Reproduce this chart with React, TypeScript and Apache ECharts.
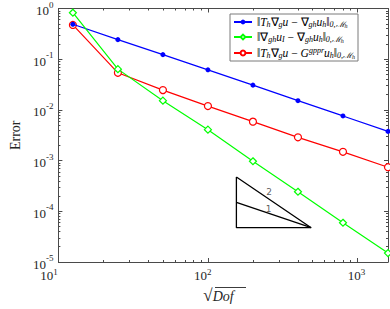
import React, { useEffect, useRef } from "react";
import * as echarts from "echarts";

const dofs = [12.5, 25, 50, 100, 200, 400, 800, 1600];
const errBlue = [0.489, 0.243, 0.123, 0.0617, 0.0308, 0.0152, 0.0076, 0.00377];
const errGreen = [0.826, 0.0637, 0.0152, 0.00407, 0.00097, 0.000243, 0.0000595, 0.000015];
const errRed = [0.474, 0.0539, 0.0246, 0.0119, 0.00586, 0.00288, 0.00149, 0.00074];

const xMajor = [10, 100, 1000];
const xMinor = [20, 30, 40, 50, 60, 70, 80, 90, 200, 300, 400, 500, 600, 700, 800, 900];
const yMajor = [1e-5, 1e-4, 1e-3, 1e-2, 1e-1, 1];
const yMinorFactors = [2, 3, 4, 5, 6, 7, 8, 9];
const yDecades = [1e-5, 1e-4, 1e-3, 1e-2, 1e-1];

// slope triangle (data coords)
const triOuter = [[155, 4.75e-4], [490, 4.75e-5], [155, 4.75e-5], [155, 4.75e-4]];
const triInner = [[155, 1.5e-4], [490, 4.75e-5]];
const triLabels = [
  { name: "2", value: [256, 2.4e-4] },
  { name: "1", value: [255, 1.1e-4] },
];

const legendNames = ["s1", "s2", "s3"];

export default function App() {
  const ref = useRef<HTMLDivElement>(null);
  useEffect(() => {
    if (!ref.current) return;
    const chart = echarts.init(ref.current, undefined, { renderer: "svg" });
    const yMinor: number[] = [];
    yDecades.forEach((d) => yMinorFactors.forEach((f) => yMinor.push(f * d)));
    const axColor = "#4a4a4a";
    const serif = "Liberation Serif";
    const powLabel = (v: number) => {
      const e = Math.round(Math.log10(v));
      return `{b|10}{s|${e}}`;
    };
    const xRich = {
      b: { fontFamily: serif, fontSize: 13, color: "#262626" },
      s: { fontFamily: serif, fontSize: 9, color: "#262626", padding: [0, 0, 8, 0] },
    };
    const yRich = {
      b: { fontFamily: serif, fontSize: 13, color: "#262626", padding: [4, 0, 0, 0] },
      s: { fontFamily: serif, fontSize: 9, color: "#262626", padding: [0, 0, 8, 0] },
    };
    const gridRect = { left: 49, right: 2, top: 7.5, bottom: 47 };
    const baseX = { type: "log", min: 10, max: 1600, logBase: 10, gridIndex: 0, splitLine: { show: false } };
    const baseY = { type: "log", min: 1e-5, max: 1, logBase: 10, gridIndex: 0, splitLine: { show: false } };
    const legendText: Record<string, string> = {
      s1: "{n|‖}{m|T}{sub|h}{n|∇}{sub|g}{m|u}{n| − ∇}{sub|gh}{m|u}{sub|h}{n|‖}{sub|0,ℳ}{ss|h}",
      s2: "{n|‖∇}{sub|gh}{m|u}{sub|I}{n| − ∇}{sub|gh}{m|u}{sub|h}{n|‖}{sub|0,ℳ}{ss|h}",
      s3: "{n|‖}{m|T}{sub|h}{n|∇}{sub|g}{m|u}{n| − }{m|G}{sup|gppr}{m|u}{sub|h}{n|‖}{sub|0,ℳ}{ss|h}",
    };
    chart.setOption({
      animation: false,
      grid: [gridRect, { ...gridRect }],
      graphic: [
        {
          type: "line",
          shape: { x1: 215, y1: 287.5, x2: 246, y2: 287.5 },
          style: { stroke: "#262626", lineWidth: 0.9 },
        },
      ],
      xAxis: [
        {
          ...baseX,
          position: "bottom",
          axisLine: { show: true, lineStyle: { color: axColor, width: 1 } },
          axisTick: { show: true, inside: true, length: 4, lineStyle: { color: axColor }, customValues: xMajor },
          axisLabel: { show: false },
        },
        {
          ...baseX,
          position: "bottom",
          axisLine: { show: false },
          axisTick: { show: true, inside: true, length: 2, lineStyle: { color: axColor }, customValues: xMinor },
          axisLabel: { show: false },
        },
        {
          ...baseX,
          position: "top",
          axisLine: { show: true, lineStyle: { color: axColor, width: 1 } },
          axisTick: { show: true, inside: true, length: 4, lineStyle: { color: axColor }, customValues: xMajor },
          axisLabel: { show: false },
        },
        {
          ...baseX,
          position: "top",
          axisLine: { show: false },
          axisTick: { show: true, inside: true, length: 2, lineStyle: { color: axColor }, customValues: xMinor },
          axisLabel: { show: false },
        },
        {
          ...baseX,
          gridIndex: 1,
          position: "bottom",
          axisLine: { show: false },
          axisTick: { show: false },
          axisLabel: { show: true, margin: 10, customValues: xMajor, formatter: powLabel, rich: xRich },
          name: "{r|√}{d|Dof}",
          nameLocation: "middle",
          nameGap: 28,
          nameTextStyle: {
            color: "#262626",
            rich: {
              r: { fontFamily: serif, fontSize: 17, color: "#262626" },
              d: { fontFamily: serif, fontSize: 14, fontStyle: "italic", color: "#262626", padding: [2, 0, 0, 0] },
            },
          },
        },
      ],
      yAxis: [
        {
          ...baseY,
          position: "left",
          axisLine: { show: true, lineStyle: { color: axColor, width: 1 } },
          axisTick: { show: true, inside: true, length: 4, lineStyle: { color: axColor }, customValues: yMajor },
          axisLabel: { show: true, margin: 5, customValues: yMajor, formatter: powLabel, rich: yRich },
          name: "Error",
          nameLocation: "middle",
          nameGap: 32,
          nameRotate: 90,
          nameTextStyle: { fontFamily: serif, fontSize: 14, color: "#262626" },
        },
        {
          ...baseY,
          position: "left",
          axisLine: { show: false },
          axisTick: { show: true, inside: true, length: 2, lineStyle: { color: axColor }, customValues: yMinor },
          axisLabel: { show: false },
        },
        {
          ...baseY,
          position: "right",
          axisLine: { show: true, lineStyle: { color: axColor, width: 1 } },
          axisTick: { show: true, inside: true, length: 4, lineStyle: { color: axColor }, customValues: yMajor },
          axisLabel: { show: false },
        },
        {
          ...baseY,
          position: "right",
          axisLine: { show: false },
          axisTick: { show: true, inside: true, length: 2, lineStyle: { color: axColor }, customValues: yMinor },
          axisLabel: { show: false },
        },
        {
          ...baseY,
          gridIndex: 1,
          show: false,
        },
      ],
      legend: {
        data: legendNames,
        left: 230,
        top: 14,
        orient: "vertical",
        backgroundColor: "#fff",
        borderColor: "#7a7a7a",
        borderWidth: 1,
        padding: [2, 3, 1, 3],
        itemGap: 2,
        itemWidth: 18,
        itemHeight: 6,
        formatter: (name: string) => legendText[name],
        textStyle: {
          color: "#000",
          rich: {
            n: { fontFamily: serif, fontSize: 11.5, color: "#000" },
            m: { fontFamily: serif, fontSize: 11.5, fontStyle: "italic", color: "#000" },
            sub: { fontFamily: serif, fontSize: 8, fontStyle: "italic", color: "#000", padding: [5, 0, 0, 0] },
            ss: { fontFamily: serif, fontSize: 6, fontStyle: "italic", color: "#000", padding: [8, 0, 0, 0] },
            sup: { fontFamily: serif, fontSize: 8, fontStyle: "italic", color: "#000", padding: [0, 0, 6, 0] },
          },
        },
      },
      series: [
        {
          name: "s1",
          type: "line",
          data: dofs.map((x, i) => [x, errBlue[i]]),
          symbol: "circle",
          symbolSize: 5,
          lineStyle: { color: "#0000ff", width: 1.2 },
          itemStyle: { color: "#0000ff" },
        },
        {
          name: "s2",
          type: "line",
          data: dofs.map((x, i) => [x, errGreen[i]]),
          symbol: "diamond",
          symbolSize: 7,
          lineStyle: { color: "#00ff00", width: 1.2 },
          itemStyle: { color: "#ffffff", borderColor: "#00ff00", borderWidth: 1.2 },
          z: 3,
        },
        {
          name: "s3",
          type: "line",
          data: dofs.map((x, i) => [x, errRed[i]]),
          symbol: "circle",
          symbolSize: 7,
          lineStyle: { color: "#ff0000", width: 1.2 },
          itemStyle: { color: "#ffffff", borderColor: "#ff0000", borderWidth: 1.2 },
          z: 2,
        },
        {
          name: "triOuter",
          type: "line",
          data: triOuter,
          symbol: "none",
          lineStyle: { color: "#000", width: 1.3 },
          silent: true,
        },
        {
          name: "triInner",
          type: "line",
          data: triInner,
          symbol: "none",
          lineStyle: { color: "#000", width: 1.3 },
          silent: true,
        },
        {
          name: "triLabels",
          type: "scatter",
          data: triLabels,
          symbolSize: 0,
          label: {
            show: true,
            position: "inside",
            formatter: (p: any) => p.name,
            fontFamily: "DejaVu Sans",
            fontSize: 9,
            color: "#333",
          },
          silent: true,
        },
      ],
    });
    return () => chart.dispose();
  }, []);
  return (
    <div
      ref={ref}
      style={{ position: "fixed", left: 0, top: 0, width: 390, height: 309, background: "#fff" }}
    />
  );
}
